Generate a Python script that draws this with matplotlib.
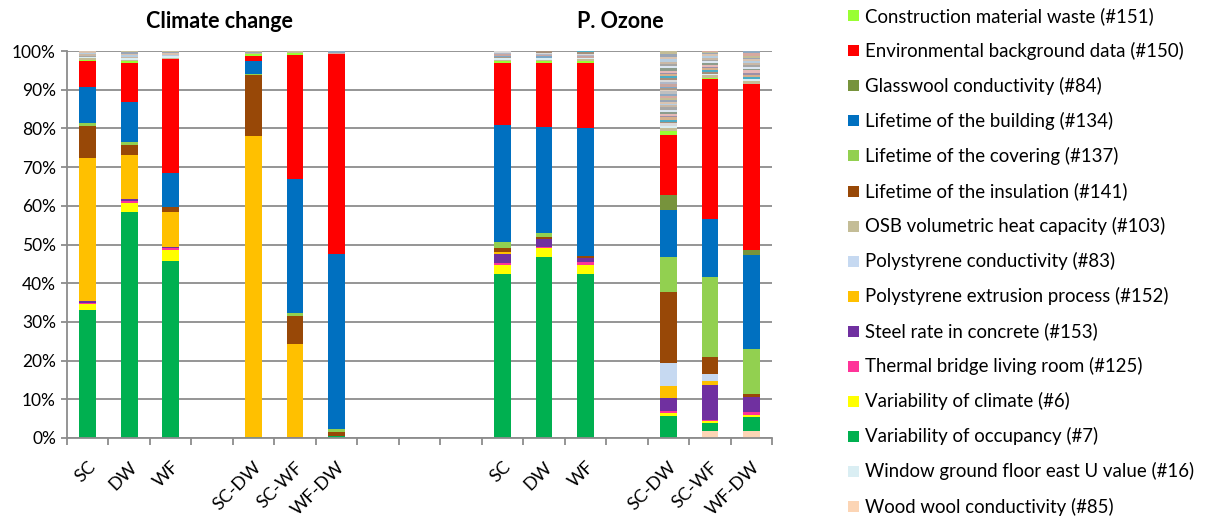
import matplotlib
matplotlib.use("Agg")
import matplotlib.pyplot as plt
import numpy as np
from matplotlib.patches import Rectangle

plt.rcParams['font.family'] = ['Lato', 'DejaVu Sans']

# ---- categories (17 slots, blanks are gaps) ----
categories = ['SC', 'DW', 'WF', '', 'SC-DW', 'SC-WF', 'WF-DW', '', '', '',
              'SC', 'DW', 'WF', '', 'SC-DW', 'SC-WF', 'WF-DW']

# ---- series values (percent), stacked bottom -> top ----
wood_wool    = [0, 0, 0, 0, 0, 0, 0, 0, 0, 0, 0, 0, 0, 0, 0, 1.7, 1.8]
occupancy    = [33.0, 58.3, 45.7, 0, 0.3, 0, 0.5, 0, 0, 0, 42.3, 46.8, 42.5, 0, 5.6, 2.1, 3.7]
climate      = [1.5, 2.5, 2.8, 0, 0, 0, 0, 0, 0, 0, 2.4, 2.2, 2.3, 0, 0.9, 0.5, 0.5]
thermal      = [0.4, 0.5, 0.7, 0, 0, 0, 0, 0, 0, 0, 0.4, 0.3, 0.6, 0, 0.5, 0.3, 0.6]
steel        = [0.4, 0.5, 0.2, 0, 0, 0.3, 0, 0, 0, 0, 2.5, 2.0, 1.1, 0, 3.3, 9.0, 4.1]
extrusion    = [37.0, 11.2, 8.9, 0, 77.7, 24.0, 0, 0, 0, 0, 0.4, 0, 0, 0, 3.2, 1.0, 0]
ps_conduct   = [0, 0, 0, 0, 0, 0, 0, 0, 0, 0, 0, 0, 0, 0, 6.0, 2.0, 0]
insulation   = [8.2, 2.7, 1.4, 0, 15.7, 7.2, 1.0, 0, 0, 0, 1.2, 0.7, 0.5, 0, 18.1, 4.4, 0.6]
covering     = [0.8, 0.8, 0, 0, 0.3, 0.8, 0.7, 0, 0, 0, 1.5, 1.0, 0, 0, 9.1, 20.6, 11.7]
building     = [9.5, 10.2, 8.8, 0, 3.3, 34.7, 45.3, 0, 0, 0, 30.1, 27.3, 33.0, 0, 12.2, 15.0, 24.2]
glasswool    = [0, 0, 0, 0, 0, 0, 0, 0, 0, 0, 0, 0, 0, 0, 3.9, 0, 1.4]
env_data     = [6.5, 10.3, 29.5, 0, 1.4, 32.0, 51.7, 0, 0, 0, 16.0, 16.7, 17.0, 0, 15.5, 36.2, 42.9]
constr_waste = [0.5, 0.3, 0, 0, 0.5, 0.6, 0, 0, 0, 0, 0.5, 0.4, 0.5, 0, 1.0, 0.3, 0]
osb          = [0.3, 0.3, 0.3, 0, 0.2, 0, 0, 0, 0, 0, 0.4, 0.4, 0.4, 0, 0.8, 0.6, 0.8]
window       = [0.4, 0.5, 0.4, 0, 0, 0, 0, 0, 0, 0, 0.4, 0.4, 0.4, 0, 0.6, 0.4, 0.5]

# remaining minor parameters (thin stripes at the top of each bar), per slot
others_cc_sc   = [0.3, 0.4, 0.3, 0.5]
others_cc_dw   = [0.4, 0.5, 0.3, 0.4, 0.3]
others_cc_wf   = [0.3, 0.4, 0.3, 0.3]
others_cc_scdw = [0.3, 0.3]
others_cc_scwf = [0.4]
others_cc_wfdw = [0.4, 0.4]
others_oz_sc   = [0.4, 0.3, 0.5, 0.3, 0.4]
others_oz_dw   = [0.4, 0.3, 0.4, 0.3, 0.4]
others_oz_wf   = [0.3, 0.4, 0.3, 0.4, 0.3]
others_oz_scdw = [0.6, 0.4, 0.5, 0.7, 0.3, 0.5, 0.6, 0.4, 0.8, 0.5,
                  0.3, 0.6, 0.5, 0.4, 0.7, 0.5, 0.6, 0.3, 0.5, 0.4,
                  0.6, 0.5, 0.7, 0.4, 0.5, 0.6, 0.3, 0.5, 0.8, 0.4,
                  0.6, 0.5, 0.7, 0.5, 0.8, 0.8]
others_oz_scwf = [0.5, 0.4, 0.6, 0.3, 0.5, 0.4, 0.5, 0.3, 0.6, 0.4, 0.5, 0.3, 0.4, 0.5]
others_oz_wfdw = [0.6, 0.4, 0.5, 0.7, 0.3, 0.5, 0.6, 0.4, 0.5, 0.6, 0.4, 0.5, 0.7, 0.5]

others_by_slot = {0: others_cc_sc, 1: others_cc_dw, 2: others_cc_wf,
                  4: others_cc_scdw, 5: others_cc_scwf, 6: others_cc_wfdw,
                  10: others_oz_sc, 11: others_oz_dw, 12: others_oz_wf,
                  14: others_oz_scdw, 15: others_oz_scwf, 16: others_oz_wfdw}

other_colors = ['#A6A6A6', '#C9B8A6', '#B7CDE0', '#D9C3B0', '#9AA5B5', '#C4BD97',
                '#D6A9A0', '#8EA9C1', '#BFBFBF', '#E0CFC0', '#A99A8A', '#7DA7C7',
                '#C8A6A0', '#B0B8C8', '#D9D9D9', '#A58F7A', '#4BACC6', '#D8B08C',
                '#9C8FA8', '#E6B9B8', '#8C9C8C', '#DCE6F2']

# stacking order bottom -> top
stack = [
    ('Wood wool conductivity (#85)', wood_wool, '#FCD5B5'),
    ('Variability of occupancy (#7)', occupancy, '#00B050'),
    ('Variability of climate (#6)', climate, '#FFFF00'),
    ('Thermal bridge living room (#125)', thermal, '#FF3399'),
    ('Steel rate in concrete (#153)', steel, '#7030A0'),
    ('Polystyrene extrusion process (#152)', extrusion, '#FFC000'),
    ('Polystyrene conductivity (#83)', ps_conduct, '#C6D9F1'),
    ('Lifetime of the insulation (#141)', insulation, '#984807'),
    ('Lifetime of the covering (#137)', covering, '#92D050'),
    ('Lifetime of the building (#134)', building, '#0070C0'),
    ('Glasswool conductivity (#84)', glasswool, '#77933C'),
    ('Environmental background data (#150)', env_data, '#FF0000'),
    ('Construction material waste (#151)', constr_waste, '#99FF33'),
    ('OSB volumetric heat capacity (#103)', osb, '#C4BD97'),
    ('Window ground floor east U value (#16)', window, '#DAEEF3'),
]

fig = plt.figure(figsize=(12.18, 5.17), dpi=100)
ax = fig.add_axes([67/1218, 1-438/517, (772-67)/1218, (438-51)/517])

x = np.arange(len(categories))
width = 0.4
bottom = np.zeros(len(categories))
for name, vals, col in stack:
    v = np.array(vals, dtype=float) / 100.0
    ax.bar(x, v, width, bottom=bottom, color=col, linewidth=0)
    bottom += v

for slot, vals in others_by_slot.items():
    b = bottom[slot]
    for i, val in enumerate(vals):
        ax.bar(x[slot], val/100.0, width, bottom=b,
               color=other_colors[(i + slot) % len(other_colors)], linewidth=0)
        b += val/100.0

ax.set_xlim(-0.5, len(categories) - 0.5)
ax.set_ylim(0, 1.0)
ax.set_yticks(np.arange(0, 1.01, 0.1))
ax.set_yticklabels([f'{int(round(t*100))}%' for t in np.arange(0, 1.01, 0.1)], fontsize=12.5)
ax.set_axisbelow(True)
ax.yaxis.grid(True, color='#8C8C8C', linewidth=1.3)
for s in ['top', 'right']:
    ax.spines[s].set_visible(False)
ax.spines['left'].set_color('#8C8C8C')
ax.spines['left'].set_linewidth(1.3)
ax.spines['bottom'].set_color('#8C8C8C')
ax.spines['bottom'].set_linewidth(1.3)
ax.tick_params(axis='y', length=4, color='#8C8C8C', width=1.3, pad=4)

ax.set_xticks(x)
ax.set_xticklabels(categories, rotation=45, ha='right', rotation_mode='anchor', fontsize=13)
ax.tick_params(axis='x', which='major', length=0, pad=15)
ax.set_xticks(np.arange(-0.5, len(categories), 1.0), minor=True)
ax.tick_params(axis='x', which='minor', length=5, color='#8C8C8C', width=1.3)

fig.text(219/1218, 1-22/517, 'Climate change', ha='center', va='center',
         fontsize=15.5, fontweight='bold')
fig.text(620/1218, 1-22/517, 'P. Ozone', ha='center', va='center',
         fontsize=15.5, fontweight='bold')

# legend (alphabetical), drawn as figure artists
legend_order = sorted(stack, key=lambda s: s[0])
for i, (name, vals, col) in enumerate(legend_order):
    yc = 15.8 + 35.05 * i
    fig.patches.append(Rectangle((848/1218, 1-(yc+5.5)/517), 11/1218, 11/517,
                                 transform=fig.transFigure, facecolor=col,
                                 edgecolor='none'))
    fig.text(865/1218, 1-yc/517, name, ha='left', va='center', fontsize=13.4)

fig.savefig('out.png', dpi=100)
